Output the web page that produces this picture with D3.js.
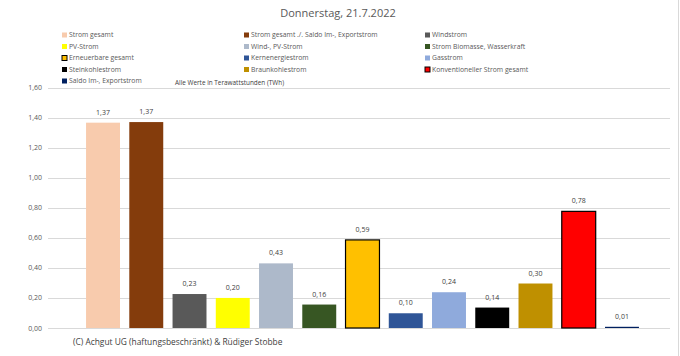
<!DOCTYPE html>
<html><head><meta charset="utf-8">
<script src="https://cdn.jsdelivr.net/npm/d3@7"></script>
<style>body{margin:0;background:#fff}svg{display:block;font-family:"Open Sans",sans-serif}</style>
</head><body>
<script>
const categories = ["Strom gesamt","Strom gesamt ./. Saldo Im-, Exportstrom","Windstrom","PV-Strom","Wind-, PV-Strom","Strom Biomasse, Wasserkraft","Erneuerbare gesamt","Kernenergiestrom","Gasstrom","Steinkohlestrom","Braunkohlestrom","Konventioneller Strom gesamt","Saldo Im-, Exportstrom"];
const values = [1.366,1.370,0.226,0.200,0.430,0.156,0.586,0.098,0.238,0.136,0.296,0.776,0.008];
const colors = ["#F8CBAD","#843C0C","#595959","#FFFF00","#ADB9CA","#375623","#FFC000","#2F5597","#8FAADC","#000000","#BF9000","#FF0000","#002060"];
const outlined = [false,false,false,false,false,false,true,false,false,false,false,true,false];
const yTicks = [0,0.2,0.4,0.6,0.8,1.0,1.2,1.4,1.6];
const title = "Donnerstag, 21.7.2022";
const unitNote = "Alle Werte in Terawattstunden (TWh)";
const credit = "(C) Achgut UG (haftungsbeschränkt) & Rüdiger Stobbe";

const W=680,H=356;
const svg=d3.select("body").append("svg").attr("width",W).attr("height",H);
const fmt=v=>d3.format(".2f")(v).replace(".",",");

const y=d3.scaleLinear().domain([0,1.6]).range([328,87.5]);
const x=d3.scaleBand().domain(categories).range([81.4,643.6]).paddingInner(0.215).paddingOuter(0.1075);

svg.append("line").attr("x1",678.5).attr("x2",678.5).attr("y1",0).attr("y2",H).attr("stroke","#d9d9d9");

svg.append("g").selectAll("line").data(yTicks).join("line")
  .attr("x1",48).attr("x2",670).attr("y1",d=>Math.round(y(d))+0.5).attr("y2",d=>Math.round(y(d))+0.5)
  .attr("stroke","#d9d9d9").attr("stroke-width",1);

svg.append("g").selectAll("text").data(yTicks).join("text")
  .attr("x",42).attr("y",d=>y(d)+2.5).attr("text-anchor","end")
  .attr("font-size",7).attr("fill","#595959").text(d=>fmt(d));

svg.append("g").selectAll("rect").data(values).join("rect")
  .attr("x",(d,i)=>x(categories[i])).attr("width",x.bandwidth())
  .attr("y",d=>y(d)).attr("height",d=>y(0)-y(d))
  .attr("fill",(d,i)=>colors[i])
  .attr("stroke",(d,i)=>outlined[i]?"#000":"none").attr("stroke-width",1.2);

svg.append("g").selectAll("text").data(values).join("text")
  .attr("x",(d,i)=>x(categories[i])+x.bandwidth()/2).attr("y",d=>y(d)-8)
  .attr("text-anchor","middle").attr("font-size",7).attr("fill","#404040").text(d=>fmt(d));

svg.append("text").attr("x",338).attr("y",17).attr("text-anchor","middle")
  .attr("font-size",11).attr("fill","#595959").text(title);

const colX=[62,244,425], rowY=[35,46.5,58,69.5,81];
const lg=svg.append("g").selectAll("g").data(categories).join("g")
  .attr("transform",(d,i)=>`translate(${colX[i%3]},${rowY[Math.floor(i/3)]})`);
lg.append("rect").attr("x",0).attr("y",-2.5).attr("width",5).attr("height",5)
  .attr("fill",(d,i)=>colors[i]).attr("stroke",(d,i)=>outlined[i]?"#000":"none").attr("stroke-width",1);
lg.append("text").attr("x",7).attr("y",2.4).attr("font-size",6.8).attr("fill","#595959").text(d=>d);

svg.append("text").attr("x",175).attr("y",84.5).attr("font-size",6.4).attr("fill","#404040").text(unitNote);
svg.append("text").attr("x",73).attr("y",345).attr("font-size",8.4).attr("fill","#404040").text(credit);
</script>
</body></html>
